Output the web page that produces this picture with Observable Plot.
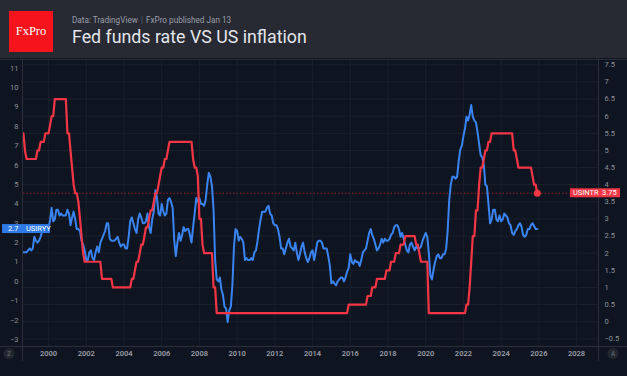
<!DOCTYPE html>
<html><head><meta charset="utf-8">
<script src="https://cdn.jsdelivr.net/npm/d3@7"></script>
<script src="https://cdn.jsdelivr.net/npm/@observablehq/plot@0.6"></script>
<style>
html,body{margin:0;padding:0;background:#0f1520;width:627px;height:376px;overflow:hidden;font-family:Roboto,sans-serif;}
#header{position:relative;height:58px;background:#272a33;}
#logo{position:absolute;left:9px;top:11px;width:44px;height:41px;background:#f5141b;color:#fff;font-family:"Liberation Serif","DejaVu Serif",serif;font-size:12.5px;display:flex;align-items:center;justify-content:center;}
#sub{position:absolute;left:72px;top:15.1px;font-size:8.2px;color:#9a9ea8;white-space:nowrap;line-height:normal}
#sub .sep{color:#5d616b;margin:0 3px}
#title{position:absolute;left:72px;top:26.2px;font-size:17.8px;color:#e3e5ea;white-space:nowrap;line-height:normal}
#chart{position:relative;height:318px}
</style></head>
<body>
<div id="header">
  <div id="logo">FxPro</div>
  <div id="sub">Data: TradingView<span class="sep">|</span>FxPro published Jan 13</div>
  <div id="title">Fed funds rate VS US inflation</div>
</div>
<div id="chart"></div>
<script>
// ---- data (monthly, starting September 1998) ----
const startYear = 1998;
const startMonthIndex = 8; // September (0-based)
const seriesNames = ["USIRYY", "USINTR"];

// US CPI YoY, %
const cpiYoY = [
  1.5,1.5,1.5,1.6,
  1.7,1.6,1.7,2.3,2.1,2.0,2.1,2.3,2.6,2.6,2.6,2.7,
  2.7,3.2,3.8,3.1,3.2,3.7,3.7,3.4,3.5,3.4,3.4,3.4,
  3.7,3.5,2.9,3.3,3.6,3.2,2.7,2.7,2.6,2.1,1.9,1.6,
  1.1,1.1,1.5,1.6,1.2,1.1,1.5,1.8,1.5,2.0,2.2,2.4,
  2.6,3.0,3.0,2.2,2.1,2.1,2.1,2.2,2.3,2.0,1.8,1.9,
  1.9,1.7,1.7,2.3,3.1,3.3,3.0,2.7,2.5,3.2,3.5,3.3,
  3.0,3.0,3.1,3.5,2.8,2.5,3.2,3.6,4.7,4.3,3.5,3.4,
  4.0,3.6,3.4,3.5,4.2,4.3,4.1,3.8,2.1,1.3,2.0,2.5,
  2.1,2.4,2.8,2.6,2.7,2.7,2.4,2.0,2.8,3.5,4.3,4.1,
  4.3,4.0,4.0,3.9,4.2,5.0,5.6,5.4,4.9,3.7,1.1,0.1,
  0.0,0.2,-0.4,-0.7,-1.3,-1.4,-2.1,-1.5,-1.3,-0.2,1.8,2.7,
  2.6,2.1,2.3,2.2,2.0,1.1,1.2,1.1,1.1,1.2,1.1,1.5,
  1.6,2.1,2.7,3.2,3.6,3.6,3.6,3.8,3.9,3.5,3.4,3.0,
  2.9,2.9,2.7,2.3,1.7,1.7,1.4,1.7,2.0,2.2,1.8,1.7,
  1.6,2.0,1.5,1.1,1.4,1.8,2.0,1.5,1.2,1.0,1.2,1.5,
  1.6,1.1,1.5,2.0,2.1,2.1,2.0,1.7,1.7,1.7,1.3,0.8,
  -0.1,0.0,-0.1,-0.2,0.0,0.1,0.2,0.2,0.0,0.2,0.5,0.7,
  1.4,1.0,0.9,1.1,1.0,1.0,0.8,1.1,1.5,1.6,1.7,2.1,
  2.5,2.7,2.4,2.2,1.9,1.6,1.7,1.9,2.2,2.0,2.2,2.1,
  2.1,2.2,2.4,2.5,2.8,2.9,2.9,2.7,2.3,2.5,2.2,1.9,
  1.6,1.5,1.9,2.0,1.8,1.6,1.8,1.7,1.7,1.8,2.1,2.3,
  2.5,2.3,1.5,0.3,0.1,0.6,1.0,1.3,1.4,1.2,1.2,1.4,
  1.4,1.7,2.6,4.2,5.0,5.4,5.4,5.3,5.4,6.2,6.8,7.0,
  7.5,7.9,8.5,8.3,8.6,9.1,8.5,8.3,8.2,7.7,7.1,6.5,
  6.4,6.0,5.0,4.9,4.0,3.0,3.2,3.7,3.7,3.2,3.1,3.4,
  3.1,3.2,3.5,3.4,3.3,3.0,2.9,2.5,2.4,2.6,2.7,2.9,
  3.0,2.8,2.4,2.3,2.4,2.7,2.7,2.9,3.0,null,2.7,2.7
];

// Fed funds rate (upper bound), %
const fedRate = [
  5.5,5.0,4.75,4.75,
  4.75,4.75,4.75,4.75,4.75,5.0,5.0,5.25,5.25,5.25,5.5,5.5,
  5.5,5.75,6.0,6.0,6.5,6.5,6.5,6.5,6.5,6.5,6.5,6.5,
  5.5,5.5,5.0,4.5,4.0,3.75,3.75,3.5,3.0,2.5,2.0,1.75,
  1.75,1.75,1.75,1.75,1.75,1.75,1.75,1.75,1.75,1.75,1.25,1.25,
  1.25,1.25,1.25,1.25,1.25,1.0,1.0,1.0,1.0,1.0,1.0,1.0,
  1.0,1.0,1.0,1.0,1.0,1.25,1.25,1.5,1.75,1.75,2.0,2.25,
  2.25,2.5,2.75,2.75,3.0,3.25,3.25,3.5,3.75,3.75,4.0,4.25,
  4.5,4.5,4.75,4.75,5.0,5.25,5.25,5.25,5.25,5.25,5.25,5.25,
  5.25,5.25,5.25,5.25,5.25,5.25,5.25,5.25,4.75,4.5,4.5,4.25,
  3.0,3.0,2.25,2.0,2.0,2.0,2.0,2.0,2.0,1.0,1.0,0.25,
  0.25,0.25,0.25,0.25,0.25,0.25,0.25,0.25,0.25,0.25,0.25,0.25,
  0.25,0.25,0.25,0.25,0.25,0.25,0.25,0.25,0.25,0.25,0.25,0.25,
  0.25,0.25,0.25,0.25,0.25,0.25,0.25,0.25,0.25,0.25,0.25,0.25,
  0.25,0.25,0.25,0.25,0.25,0.25,0.25,0.25,0.25,0.25,0.25,0.25,
  0.25,0.25,0.25,0.25,0.25,0.25,0.25,0.25,0.25,0.25,0.25,0.25,
  0.25,0.25,0.25,0.25,0.25,0.25,0.25,0.25,0.25,0.25,0.25,0.25,
  0.25,0.25,0.25,0.25,0.25,0.25,0.25,0.25,0.25,0.25,0.25,0.5,
  0.5,0.5,0.5,0.5,0.5,0.5,0.5,0.5,0.5,0.5,0.5,0.75,
  0.75,0.75,1.0,1.0,1.0,1.25,1.25,1.25,1.25,1.25,1.25,1.5,
  1.5,1.5,1.75,1.75,1.75,2.0,2.0,2.0,2.25,2.25,2.25,2.5,
  2.5,2.5,2.5,2.5,2.5,2.5,2.25,2.25,2.0,1.75,1.75,1.75,
  1.75,1.75,0.25,0.25,0.25,0.25,0.25,0.25,0.25,0.25,0.25,0.25,
  0.25,0.25,0.25,0.25,0.25,0.25,0.25,0.25,0.25,0.25,0.25,0.25,
  0.25,0.25,0.5,0.5,1.0,1.75,2.5,2.5,3.25,3.25,4.0,4.5,
  4.5,4.75,5.0,5.0,5.25,5.25,5.5,5.5,5.5,5.5,5.5,5.5,
  5.5,5.5,5.5,5.5,5.5,5.5,5.5,5.5,5.0,5.0,4.75,4.5,
  4.5,4.5,4.5,4.5,4.5,4.5,4.5,4.5,4.25,4.0,4.0,3.75
];

// axis ticks
const leftTicks = [-3,-2,-1,0,1,2,3,4,5,6,7,8,9,10,11];
const rightTicks = [-0.5,0,0.5,1,1.5,2,2.5,3,3.5,4,4.5,5,5.5,6,6.5,7,7.5];
const yearTicks = [2000,2002,2004,2006,2008,2010,2012,2014,2016,2018,2020,2022,2024,2026,2028];

// ---- build ----
const monthDate = i => new Date(Date.UTC(startYear, startMonthIndex + i, 1));
const cpi = cpiYoY.map((v, i) => ({date: monthDate(i), value: v})).filter(d => d.value != null);
const fed = fedRate.map((v, i) => ({date: monthDate(i), value: v}));
const lastCpi = cpi[cpi.length - 1];
const lastFed = fed[fed.length - 1];

// right axis (fed funds) expressed in left-axis (inflation) units
const rA = 1.7673, rB = -2.0795;
const toLeft = r => rB + rA * r;
const toRight = v => Math.round(((v - rB) / rA) * 100) / 100;
const fmt = v => (v < 0 ? "\u2212" : "") + Math.abs(v);
const yearDate = y => new Date(Date.UTC(y, 0, 1));

const gridColor = "#1a202b";
const blue = "#3a84f2", red = "#f23645";

const plot = Plot.plot({
  width: 627, height: 318,
  marginTop: 2, marginBottom: 30, marginLeft: 23, marginRight: 29,
  style: {background: "transparent", color: "#8d919c", fontFamily: "Roboto, sans-serif", fontSize: "7.5px"},
  x: {type: "utc", domain: [new Date(Date.UTC(1998, 8, 3)), new Date(Date.UTC(2029, 2, 1))]},
  y: {domain: [-3.359, 11.398]},
  marks: [
    Plot.ruleY(rightTicks.map(toLeft), {stroke: gridColor, strokeWidth: 1}),
    Plot.ruleX(yearTicks.map(yearDate), {stroke: gridColor, strokeWidth: 1}),
    Plot.ruleY([toLeft(lastFed.value)], {stroke: "#8f1e28", strokeWidth: 1, strokeDasharray: "1.5,2"}),
    Plot.axisY(leftTicks, {anchor: "left", tickSize: 0, tickPadding: 5, tickFormat: fmt, label: null, fill: "#8d919c"}),
    Plot.axisY(rightTicks.map(toLeft), {anchor: "right", tickSize: 0, tickPadding: 6, tickFormat: v => fmt(toRight(v)), label: null, fill: "#8d919c"}),
    Plot.axisX(yearTicks.map(yearDate), {anchor: "bottom", tickSize: 0, tickPadding: 4, tickFormat: d => String(d.getUTCFullYear()), label: null, fill: "#9a9da6", fontWeight: 600}),
    Plot.line(cpi, {x: "date", y: "value", stroke: blue, strokeWidth: 2, strokeLinejoin: "round"}),
    Plot.line(fed, {x: "date", y: d => toLeft(d.value), stroke: red, strokeWidth: 2.2, strokeLinejoin: "round"}),
    Plot.dot([lastFed], {x: "date", y: d => toLeft(d.value), r: 3.5, fill: red, stroke: "none"})
  ]
});
document.getElementById("chart").appendChild(plot);

// ---- chart chrome & price labels ----
const svg = d3.select(plot);
const xs = plot.scale("x"), ys = plot.scale("y");
const [xL, xR] = xs.range;
const [yB, yT] = ys.range;
const line = "#2a2f3a";
const g = svg.append("g");
g.append("line").attr("x1", 0).attr("x2", 627).attr("y1", yT - 0.5).attr("y2", yT - 0.5).attr("stroke", line);
g.append("line").attr("x1", 0).attr("x2", 627).attr("y1", yB + 0.5).attr("y2", yB + 0.5).attr("stroke", line);
g.append("line").attr("x1", xL - 0.5).attr("x2", xL - 0.5).attr("y1", 0).attr("y2", yB + 15).attr("stroke", line);
g.append("line").attr("x1", xR + 0.5).attr("x2", xR + 0.5).attr("y1", 0).attr("y2", yB + 15).attr("stroke", line);

// inflation label (left)
const yc = ys.apply(lastCpi.value);
const lb = svg.append("g").attr("font-family", "Roboto, sans-serif").attr("font-size", "7.5px").attr("fill", "#fff").attr("text-anchor", "start");
lb.append("rect").attr("x", 2).attr("y", yc - 4.5).attr("width", 48).attr("height", 9).attr("fill", "#2f7ae6");
lb.append("text").attr("x", 8).attr("y", yc).attr("dy", "0.35em").attr("text-anchor", "start").text(String(lastCpi.value));
lb.append("text").attr("x", 26).attr("y", yc).attr("dy", "0.35em").attr("text-anchor", "start").text(seriesNames[0]);

// fed label (right)
const yr = ys.apply(toLeft(lastFed.value));
const rb = svg.append("g").attr("font-family", "Roboto, sans-serif").attr("font-size", "7.5px").attr("fill", "#fff").attr("text-anchor", "start");
rb.append("rect").attr("x", xR - 28).attr("y", yr - 4.5).attr("width", 50).attr("height", 9).attr("fill", red);
rb.append("text").attr("x", xR - 25).attr("y", yr).attr("dy", "0.35em").attr("text-anchor", "start").text(seriesNames[1]);
rb.append("text").attr("x", xR + 4).attr("y", yr).attr("dy", "0.35em").attr("text-anchor", "start").text(lastFed.value.toFixed(2));

// scale-mode buttons
const btn = (cx, ch) => {
  svg.append("circle").attr("cx", cx).attr("cy", yB + 7.5).attr("r", 5.5).attr("fill", "#22262f");
  svg.append("text").attr("x", cx).attr("y", yB + 7.5).attr("dy", "0.35em").attr("text-anchor", "middle")
    .attr("font-size", "6.5px").attr("font-family", "Roboto, sans-serif").attr("fill", "#6d717b").text(ch);
};
btn(9, "Z");
btn(613, "A");
</script>
</body></html>
